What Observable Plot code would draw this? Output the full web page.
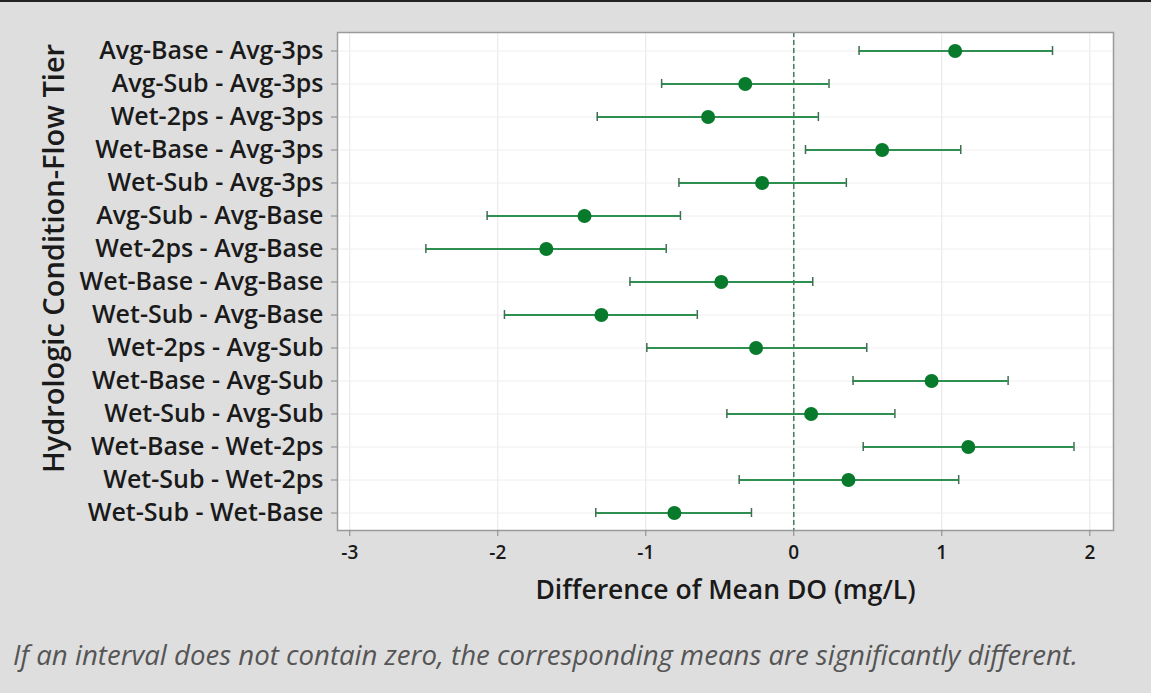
<!DOCTYPE html>
<html>
<head>
<meta charset="utf-8">
<script src="https://cdn.jsdelivr.net/npm/d3@7"></script>
<script src="https://cdn.jsdelivr.net/npm/@observablehq/plot@0.6"></script>
<style>
  html, body { margin: 0; padding: 0; background: #dedede; }
  #wrap { width: 1151px; height: 693px; box-sizing: border-box; border-top: 2px solid #222; position: relative; overflow: hidden; }
  #chart svg { display: block; }
  #caption { position: absolute; left: 13px; top: 633px; font-family: "Open Sans", sans-serif; font-style: italic; font-weight: 400; font-size: 27.6px; color: #555; white-space: nowrap; }
</style>
</head>
<body>
<div id="wrap">
  <div id="chart"></div>
  <div id="caption">If an interval does not contain zero, the corresponding means are significantly different.</div>
</div>
<script>
const pairs = [
  "Avg-Base - Avg-3ps",
  "Avg-Sub - Avg-3ps",
  "Wet-2ps - Avg-3ps",
  "Wet-Base - Avg-3ps",
  "Wet-Sub - Avg-3ps",
  "Avg-Sub - Avg-Base",
  "Wet-2ps - Avg-Base",
  "Wet-Base - Avg-Base",
  "Wet-Sub - Avg-Base",
  "Wet-2ps - Avg-Sub",
  "Wet-Base - Avg-Sub",
  "Wet-Sub - Avg-Sub",
  "Wet-Base - Wet-2ps",
  "Wet-Sub - Wet-2ps",
  "Wet-Sub - Wet-Base"
];
const means = [1.090, -0.328, -0.579, 0.597, -0.214, -1.414, -1.672, -0.490, -1.300, -0.255, 0.931, 0.117, 1.179, 0.369, -0.807];
const lower = [0.441, -0.893, -1.328, 0.079, -0.776, -2.072, -2.486, -1.107, -1.955, -0.993, 0.400, -0.452, 0.469, -0.369, -1.338];
const upper = [1.748, 0.238, 0.166, 1.128, 0.355, -0.766, -0.862, 0.128, -0.652, 0.493, 1.448, 0.683, 1.893, 1.114, -0.286];
const xTicks = [-3, -2, -1, 0, 1, 2];

const data = pairs.map((p, i) => ({pair: p, mean: means[i], lo: lower[i], hi: upper[i]}));

const font = '"Open Sans", sans-serif';
const capInset = 12;

const chart = Plot.plot({
  width: 1151,
  height: 632,
  marginLeft: 337,
  marginRight: 38,
  marginTop: 30,
  marginBottom: 104,
  style: {background: "transparent", fontFamily: font, color: "#1a1a1a"},
  x: {domain: [-3.083, 2.16], ticks: xTicks, label: null},
  y: {type: "band", domain: pairs, label: null, padding: 0},
  marks: [
    Plot.frame({fill: "white", stroke: null}),
    Plot.gridX(xTicks, {stroke: "#e6e6e6", strokeOpacity: 1}),
    Plot.gridY(pairs, {stroke: "#eeeeee", strokeOpacity: 1}),
    Plot.ruleX([0], {stroke: "#2a6a44", strokeDasharray: "5,3", strokeWidth: 1.3}),
    Plot.ruleY(data, {y: "pair", x1: "lo", x2: "hi", stroke: "#2f8f50", strokeWidth: 2}),
    Plot.tickX(data, {x: "lo", y: "pair", stroke: "#3f6f52", strokeWidth: 1.5, insetTop: capInset, insetBottom: capInset}),
    Plot.tickX(data, {x: "hi", y: "pair", stroke: "#3f6f52", strokeWidth: 1.5, insetTop: capInset, insetBottom: capInset}),
    Plot.dot(data, {x: "mean", y: "pair", r: 7, fill: "#087a2b", stroke: null}),
    Plot.frame({stroke: "#9a9a9a", strokeWidth: 1.5}),
    Plot.axisY({tickSize: 6, tickPadding: 8, fontSize: 25, fontWeight: 600, stroke: "#888", label: null}),
    Plot.axisX({ticks: xTicks, tickSize: 6, tickPadding: 9, fontSize: 19, fontWeight: 600, stroke: "#888", label: null, tickFormat: d => String(d)}),
    Plot.text(["Difference of Mean DO (mg/L)"], {frameAnchor: "bottom", lineAnchor: "middle", dy: 60, fontSize: 26.5, fontWeight: 600, fill: "#1a1a1a"}),
    Plot.text(["Hydrologic Condition-Flow Tier"], {frameAnchor: "left", textAnchor: "middle", lineAnchor: "middle", dx: -283, dy: -23, rotate: -90, fontSize: 29, fontWeight: 600, fill: "#1a1a1a"})
  ]
});
document.getElementById("chart").appendChild(chart);
</script>
</body>
</html>
